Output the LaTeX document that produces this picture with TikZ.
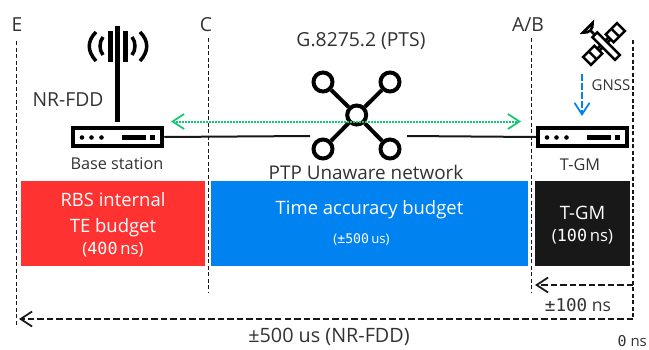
\documentclass[tikz,border=0pt]{standalone}
\usepackage{fontspec}
\setmainfont{Open Sans}
\newfontfamily\numfont{DejaVu Sans Mono}
\usetikzlibrary{arrows.meta,calc}
\definecolor{c1}{RGB}{255,50,50}
\definecolor{c2}{RGB}{0,130,240}
\definecolor{c3}{RGB}{24,24,24}
\definecolor{c4}{RGB}{20,200,115}
\definecolor{c5}{RGB}{50,50,50}
\tikzset{
  txt/.style={text=c5,inner sep=0pt,font=\fontsize{#1}{#1}\selectfont},
  budget/.style={inner sep=0pt,minimum height=85*.4mm},
  budgettxt/.style={inner sep=0pt,text=white,align=center,font=\fontsize{21}{28}\selectfont},
  devbox/.style={draw=black,fill=white,line width=4.5*0.4mm,minimum width=89*0.4mm,minimum height=18*0.4mm,inner sep=0pt},
  hub/.style={circle,draw=black,fill=none,line width=4*0.4mm,minimum size=19*0.4mm,inner sep=0pt},
  refline/.style={line width=.45mm,dash pattern=on 1.6mm off 1mm,c3},
  spanline/.style={line width=.7mm,dash pattern=on 2.6mm off 1.2mm,c3},
  spanhead/.style={-{Straight Barb[length=4.6mm,width=6mm,line width=.7mm]}}
}
\begin{document}
\begin{tikzpicture}[x=.4mm,y=-.4mm]
      \useasboundingbox (0,0) rectangle (649,349);
      \coordinate (etop) at (16.5,41);    \coordinate (ebot) at (16.5,325);
      \coordinate (ctop) at (208.5,38);   \coordinate (cbot) at (208.5,293);
      \coordinate (abtop) at (531.5,38);  \coordinate (abbot) at (531.5,292);
      \coordinate (ztop) at (633,40);     \coordinate (zbot) at (633,319);
      \draw[refline] (etop) -- (ebot);
      \draw[refline] (ctop) -- (cbot);
      \draw[refline] (abtop) -- (abbot);
      \draw[refline] (ztop) -- (zbot);

      \node[budget,fill=c1,minimum width=184*.4mm] (rbs) at (113,223.5) {};
      \node[budget,fill=c2,minimum width=317*.4mm] (time) at (369.5,223.5) {};
      \node[budget,fill=c3,minimum width=95*.4mm] (gmbudget) at (582.5,223.5) {};
      \node[budgettxt] (lbrbs) at (113,225)
        {RBS internal\\[1pt]TE budget\\[-3pt]{\fontsize{19}{20}\selectfont(\numfont 400\,\rmfamily ns)}};
      \node[budgettxt] (lbtime) at (369.5,210) {Time accuracy budget};
      \node[budgettxt,font=\fontsize{15}{18}\selectfont] (lbpm) at (361.5,240) {(\numfont ±500\,\rmfamily us)};
      \node[budgettxt] (lbgm) at (582.5,225.5)
        {T-GM\\[-3pt]{\fontsize{19}{20}\selectfont(\numfont 100\,\rmfamily ns)}};

      \node[txt=22] (lbe) at (17,25) {E};
      \node[txt=22] (lbc) at (206,25) {C};
      \node[txt=22] (lbab) at (528,25) {A/B};
      \node[txt=22] (lbpts) at (361,41) {G.8275.2 (PTS)};
      \node[txt=21.5] (lbptp) at (366,172) {PTP Unaware network};
      \node[txt=22] (lbnr) at (68,100) {NR-FDD};
      \node[txt=18.5] (lbbase) at (117,164) {Base station};
      \node[txt=18.5] (lbtgm) at (580,165) {T-GM};
      \node[txt=17] (lbgnss) at (611,85) {GNSS};
      \node[txt=20] (lbhund) at (578,305) {{\numfont ±100} ns};
      \node[txt=22.5] (lbfive) at (329,337) {±500 us (NR-FDD)};
      \node[txt=17,anchor=south east] (lbzero) at (647,346.5) {{\numfont 0} ns};

      \node[devbox] (base) at (117.5,137) {};
      \node[devbox] (tgm) at (582.5,137) {};
      \foreach \dev in {base,tgm}{
        \foreach \dx in {-35.5,-26,-16}
          \fill ($(\dev)+(\dx,.5)$) circle (2.3);
        \fill ($(\dev)+(4.5,-2)$) rectangle ($(\dev)+(28.5,3)$);
        \fill ($(\dev)+(32.5,-2)$) rectangle ($(\dev)+(37.5,3)$);
      }

      % antenna
      \draw[line width=5*.4mm] (117.5,26) -- (117.5,122);
      \draw[line width=5*.4mm] (110,31) -- (110,62);
      \draw[line width=5*.4mm] (125.5,31) -- (125.5,62);
      \draw[line width=3.5*.4mm] (103,37) .. controls (99,42) and (99,50) .. (103,55);
      \draw[line width=3.5*.4mm] (132,37) .. controls (136,42) and (136,50) .. (132,55);
      \draw[line width=3.5*.4mm] (96,32) .. controls (87,41) and (87,51) .. (96,61);
      \draw[line width=3.5*.4mm] (140,32) .. controls (149,41) and (149,51) .. (140,61);

      % network
      \node[hub] (nc) at (356.7,115) {};
      \node[hub] (na) at (323,82) {};
      \node[hub] (nb) at (390,82) {};
      \node[hub] (nd) at (323,149) {};
      \node[hub] (ne) at (390,149) {};
      \foreach \n in {na,nb,nd,ne}
        \draw[line width=4*.4mm] (nc) -- (\n);

      \coordinate (gapl) at (310,136);
      \coordinate (gapr) at (407,136);
      \draw[line width=.8mm,c3] (base.east) -- (gapl);
      \draw[line width=.8mm,c3] (gapr) -- (tgm.west);

      \coordinate (syncl) at (171,121.5);
      \coordinate (syncr) at (521,121.5);
      \draw[c4,line width=.8mm,dash pattern=on .7mm off .5mm,{Straight Barb[length=4.6mm,width=6mm,line width=.7mm]}-{Straight Barb[length=4.6mm,width=6mm,line width=.7mm]}] (syncl) -- (syncr);

      % satellite
      \begin{scope}[shift={(604,44)},rotate=-45,line width=2.5*.4mm]
        \draw[fill=white] (-13,-3.5) rectangle (19,3.5);
        \draw[fill=white] (-5.5,-24) rectangle (5.5,-8);
        \draw[fill=white] (-5.5,8) rectangle (5.5,24);
        \draw (-5.5,-16) -- (5.5,-16) (-5.5,16) -- (5.5,16);
        \draw (-1.5,-8) -- (-1.5,-3.5) (1.5,-8) -- (1.5,-3.5) (-1.5,3.5) -- (-1.5,8) (1.5,3.5) -- (1.5,8);
        \draw[fill=white] (-23,-7) .. controls (-18,-3) and (-18,3) .. (-23,7) -- cycle;
        \draw (-19,0) -- (-13,0);
      \end{scope}
      \coordinate (gnsstop) at (582,74);
      \coordinate (gnssbot) at (582,116);
      \draw[c2,line width=.7mm,dash pattern=on 2.6mm off 1mm,-{Straight Barb[length=4.6mm,width=6mm,line width=.7mm]}] (gnsstop) -- (gnssbot);

      \coordinate (hundr) at (633,285);
      \coordinate (hundl) at (535,285);
      \coordinate (fivel) at (19,319);
      \draw[spanline,spanhead] (hundr) -- (hundl);
      \draw[spanline,spanhead] (zbot) -- (fivel);
\end{tikzpicture}
\end{document}
